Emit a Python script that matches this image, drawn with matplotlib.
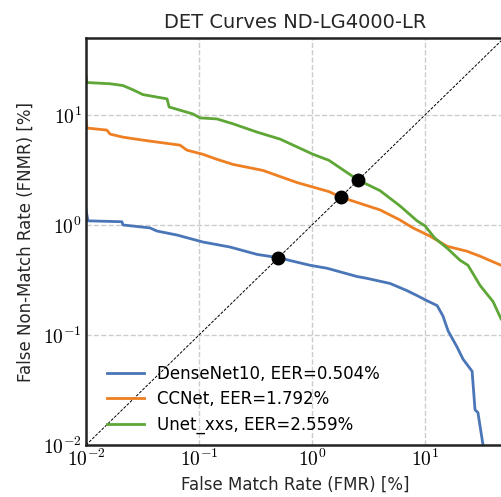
import numpy as np
import matplotlib
matplotlib.use("Agg")
import matplotlib.pyplot as plt

# DET curve points, FMR / FNMR in percent
dense_fmr = [0.01, 0.0104, 0.0208, 0.0212, 0.0368, 0.0425, 0.0638, 0.108, 0.188, 0.326, 0.504,
             0.679, 0.96, 1.36, 2.50, 3.07, 4.90, 6.93, 8.5, 10.4, 12.8, 14.4, 16.0, 19.2, 21.7,
             26.1, 27.7, 29.4, 32.6, 33.5]
dense_fnmr = [1.37, 1.09, 1.07, 1.0, 0.94, 0.88, 0.81, 0.70, 0.63, 0.54, 0.504,
              0.468, 0.43, 0.404, 0.340, 0.327, 0.294, 0.253, 0.228, 0.205, 0.185, 0.149, 0.109,
              0.0777, 0.0603, 0.0468, 0.0209, 0.0197, 0.01, 0.005]

ccnet_fmr = [0.01, 0.0102, 0.0153, 0.0163, 0.0212, 0.0319, 0.0679, 0.0784, 0.108, 0.144, 0.200,
             0.368, 0.736, 1.41, 1.792, 4.0, 6.0, 7.83, 11.1, 15.7, 23.5, 30.7, 47.1, 60.0]
ccnet_fnmr = [8.81, 7.60, 7.28, 6.70, 6.28, 5.90, 5.31, 4.78, 4.39, 3.95, 3.55,
              3.13, 2.43, 2.01, 1.792, 1.37, 1.11, 0.94, 0.79, 0.64, 0.577, 0.52, 0.43, 0.40]

unet_fmr = [0.01, 0.0102, 0.0163, 0.0212, 0.0261, 0.0319, 0.0521, 0.0544, 0.0885, 0.102, 0.144,
            0.200, 0.326, 0.521, 1.02, 1.41, 2.559, 4.0, 6.0, 8.5, 10.0, 12.2, 15.7, 20.4, 24.0,
            30.7, 40.0, 47.1, 60.0]
unet_fnmr = [22.3, 19.7, 19.2, 18.5, 16.9, 15.3, 14.0, 11.8, 10.2, 9.4, 9.2,
             8.3, 6.98, 6.03, 4.39, 3.87, 2.559, 2.05, 1.49, 1.09, 0.98, 0.76, 0.615, 0.478, 0.43,
             0.282, 0.201, 0.140, 0.10]

names = ["DenseNet10", "CCNet", "Unet_xxs"]
eers = [0.504, 1.792, 2.559]
colors = ["#4A76B8", "#EE7F22", "#5EA636"]

plt.rcParams["mathtext.fontset"] = "cm"
plt.rcParams["font.family"] = "DejaVu Sans"

fig = plt.figure(figsize=(5.01, 4.97), dpi=100)
ax = fig.add_axes([0.1717, 0.1046, 0.8343, 0.8189])

curves = [(dense_fmr, dense_fnmr), (ccnet_fmr, ccnet_fnmr), (unet_fmr, unet_fnmr)]
for (fmr, fnmr), name, eer, c in zip(curves, names, eers, colors):
    ax.plot(fmr, fnmr, color=c, lw=2.0, label=f"{name}, EER={eer:.3f}%")

ax.plot([0.01, 100], [0.01, 100], color="black", ls="--", lw=0.7, dashes=(3, 1.5))
ax.plot(eers, eers, "o", color="black", ms=9, zorder=5)

ax.set_xscale("log")
ax.set_yscale("log")
ax.set_xlim(0.01, 50)
ax.set_ylim(0.01, 50)
ax.set_xticks([0.01, 0.1, 1, 10])
ax.set_yticks([0.01, 0.1, 1, 10])
ax.set_xticklabels([r"$10^{-2}$", r"$10^{-1}$", r"$10^{0}$", r"$10^{1}$"])
ax.set_yticklabels([r"$10^{-2}$", r"$10^{-1}$", r"$10^{0}$", r"$10^{1}$"])
ax.minorticks_off()
ax.tick_params(length=0, labelsize=14, pad=3)
ax.grid(True, ls="--", color="#CCCCCC", lw=1.0)
for s in ax.spines.values():
    s.set_color("#222222")
    s.set_linewidth(1.8)

ax.set_title("DET Curves ND-LG4000-LR", fontsize=14, color="#262626", pad=7)
ax.set_xlabel("False Match Rate (FMR) [%]", fontsize=12, color="#262626")
ax.set_ylabel("False Non-Match Rate (FNMR) [%]", fontsize=12, color="#262626", labelpad=6)

leg = ax.legend(loc="lower left", frameon=False, fontsize=12, handlelength=2.2,
                bbox_to_anchor=(0.015, -0.01), labelspacing=0.45)

fig.savefig("out.png", dpi=100)
